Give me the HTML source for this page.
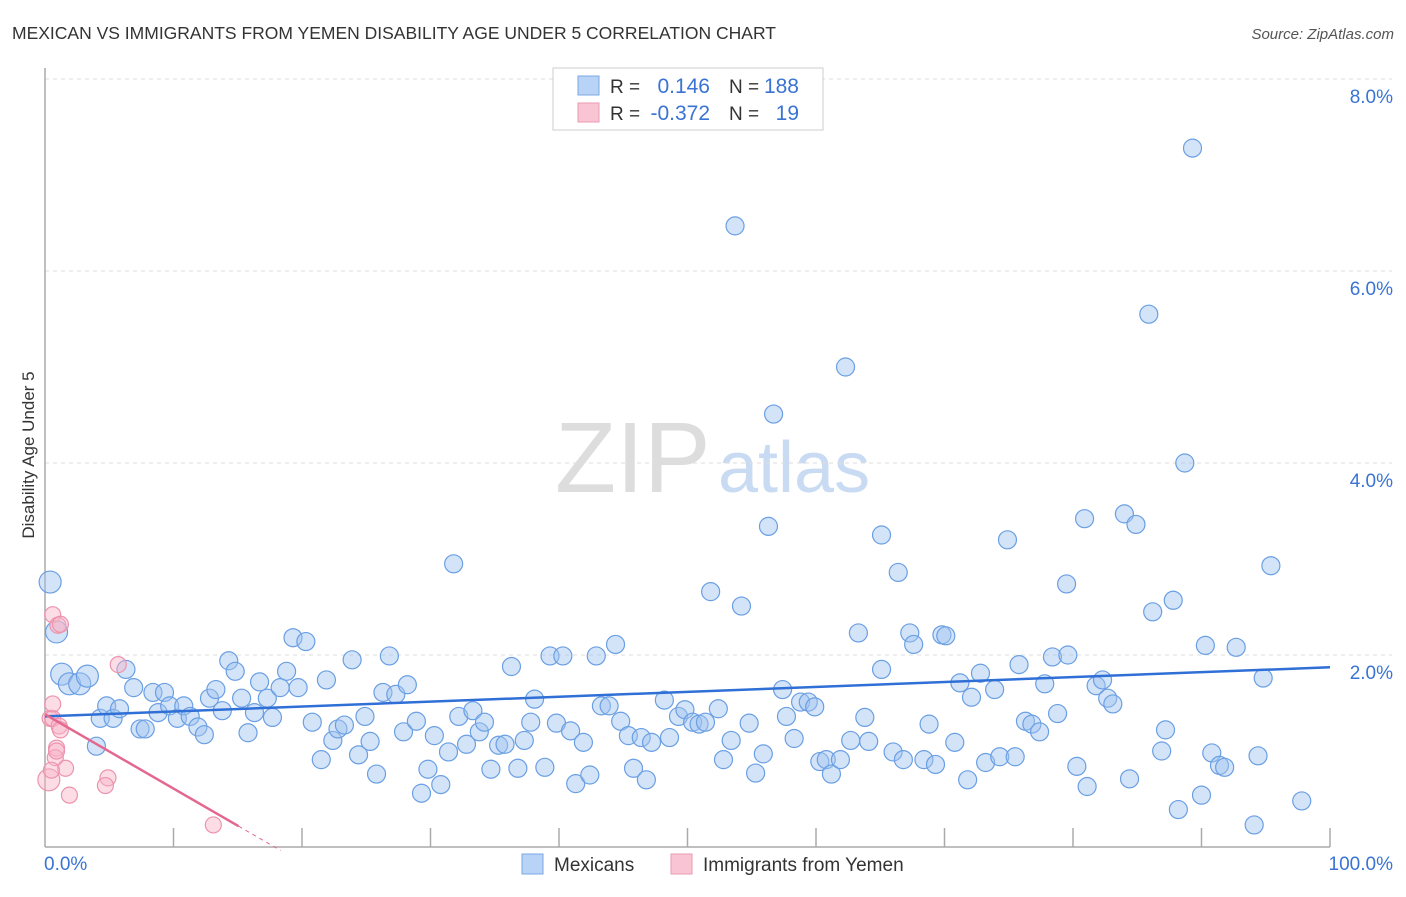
<!DOCTYPE html>
<html><head><meta charset="utf-8">
<style>
body{margin:0;background:#fff;font-family:"Liberation Sans",sans-serif;}
svg text{font-family:"Liberation Sans",sans-serif;}
</style></head>
<body>
<svg id="chart" width="1406" height="892" xmlns="http://www.w3.org/2000/svg">
<text x="12" y="39" font-size="17.5" fill="#333">MEXICAN VS IMMIGRANTS FROM YEMEN DISABILITY AGE UNDER 5 CORRELATION CHART</text>
<text x="1394" y="39" font-size="15" fill="#555" font-style="italic" text-anchor="end">Source: ZipAtlas.com</text>
<text x="34" y="455" font-size="17" fill="#333" text-anchor="middle" transform="rotate(-90 34 455)">Disability Age Under 5</text>
<g>
<text x="555" y="492" font-size="100" fill="#ddd" font-family="Liberation Serif,serif">ZIP</text>
<text x="718" y="492" font-size="72" fill="#c9dbf3">atlas</text>
</g>
<g id="grid"></g>
<g id="axes"></g>
<g id="points"></g>
<g id="trends"></g>
<g>
<rect x="553" y="68" width="270" height="62" fill="#fff" stroke="#ccc"/>
<rect x="578" y="76" width="21" height="19" fill="#b8d3f5" stroke="#7aa8e6"/>
<rect x="578" y="103" width="21" height="19" fill="#f9c5d4" stroke="#eb9ab2"/>
<text x="610" y="93" font-size="19" fill="#333">R =</text>
<text x="710" y="93" font-size="21" fill="#3a73d3" text-anchor="end">0.146</text>
<text x="729" y="93" font-size="19" fill="#333">N =</text>
<text x="799" y="93" font-size="21" fill="#3a73d3" text-anchor="end">188</text>
<text x="610" y="120" font-size="19" fill="#333">R =</text>
<text x="710" y="120" font-size="21" fill="#3a73d3" text-anchor="end">-0.372</text>
<text x="729" y="120" font-size="19" fill="#333">N =</text>
<text x="799" y="120" font-size="21" fill="#3a73d3" text-anchor="end">19</text>
</g>
<g>
<rect x="522" y="854" width="21" height="20" fill="#b8d3f5" stroke="#7aa8e6"/>
<text x="554" y="871" font-size="19" fill="#333">Mexicans</text>
<rect x="671" y="854" width="21" height="20" fill="#f9c5d4" stroke="#eb9ab2"/>
<text x="703" y="871" font-size="19" fill="#333">Immigrants from Yemen</text>
</g>
</svg>
<script>
const yTicks=[2,4,6,8];
const yTickLabels=["2.0%","4.0%","6.0%","8.0%"];
const xTickLabels=["0.0%","100.0%"];
const blueX=[0.4,0.9,1.3,1.9,2.7,3.3,4.0,4.3,4.8,5.3,5.8,6.3,6.9,7.4,7.8,8.4,8.8,9.3,9.7,10.3,10.8,11.3,11.9,12.4,12.8,13.3,13.8,14.3,14.8,15.3,15.8,16.3,16.7,17.3,17.7,18.3,18.8,19.3,19.7,20.3,20.8,21.5,21.9,22.4,22.8,23.3,23.9,24.4,24.9,25.3,25.8,26.3,26.8,27.3,27.9,28.2,28.9,29.3,29.8,30.3,30.8,31.4,31.8,32.2,32.8,33.3,33.8,34.2,34.7,35.3,35.8,36.3,36.8,37.3,37.8,38.1,38.9,39.3,39.8,40.3,40.9,41.3,41.9,42.4,42.9,43.3,43.9,44.4,44.8,45.4,45.8,46.4,46.8,47.2,48.2,48.6,49.3,49.8,50.4,50.9,51.4,51.8,52.4,52.8,53.4,53.7,54.2,54.8,55.3,55.9,56.3,56.7,57.4,57.7,58.3,58.8,59.4,59.9,60.3,60.8,61.2,61.9,62.3,62.7,63.3,63.8,64.1,65.1,65.1,66.0,66.4,66.8,67.3,67.6,68.4,68.8,69.3,69.8,70.1,70.8,71.2,71.8,72.1,72.8,73.2,73.9,74.3,74.9,75.5,75.8,76.3,76.8,77.4,77.8,78.4,78.8,79.5,79.6,80.3,80.9,81.1,81.8,82.3,82.7,83.1,84.0,84.4,84.9,85.9,86.2,86.9,87.2,87.8,88.2,88.7,89.3,90.0,90.3,90.8,91.4,91.8,92.7,94.1,94.4,94.8,95.4,97.8];
const blueY=[2.76,2.24,1.80,1.70,1.70,1.78,1.05,1.34,1.47,1.34,1.44,1.85,1.66,1.23,1.23,1.61,1.40,1.61,1.47,1.34,1.47,1.36,1.25,1.17,1.55,1.64,1.42,1.94,1.83,1.55,1.19,1.40,1.72,1.55,1.35,1.66,1.83,2.18,1.66,2.14,1.30,0.91,1.74,1.11,1.23,1.27,1.95,0.96,1.36,1.10,0.76,1.61,1.99,1.59,1.20,1.69,1.31,0.56,0.81,1.16,0.65,0.99,2.95,1.36,1.07,1.42,1.20,1.30,0.81,1.06,1.07,1.88,0.82,1.11,1.30,1.54,0.83,1.99,1.29,1.99,1.21,0.66,1.09,0.75,1.99,1.47,1.47,2.11,1.31,1.16,0.82,1.14,0.70,1.09,1.53,1.14,1.36,1.43,1.30,1.28,1.30,2.66,1.44,0.91,1.11,6.47,2.51,1.29,0.77,0.97,3.34,4.51,1.64,1.36,1.13,1.51,1.51,1.46,0.89,0.91,0.76,0.91,5.00,1.11,2.23,1.35,1.10,3.25,1.85,0.99,2.86,0.91,2.23,2.11,0.91,1.28,0.86,2.21,2.20,1.09,1.71,0.70,1.56,1.81,0.88,1.64,0.94,3.20,0.94,1.90,1.31,1.28,1.20,1.70,1.98,1.39,2.74,2.00,0.84,3.42,0.63,1.68,1.74,1.55,1.49,3.47,0.71,3.36,5.55,2.45,1.00,1.22,2.57,0.39,4.00,7.28,0.54,2.10,0.98,0.85,0.83,2.08,0.23,0.95,1.76,2.93,0.48];
const pinkX=[0.3,0.4,0.6,0.6,0.6,0.9,0.8,1.0,1.1,1.2,1.6,1.9,4.9,4.7,5.7,13.1,1.2,0.5,0.9];
const pinkY=[0.70,1.34,1.34,1.49,2.42,1.03,0.93,2.31,1.26,2.32,0.82,0.54,0.72,0.64,1.90,0.23,1.22,0.80,1.00];
const NS="http://www.w3.org/2000/svg";
const X0=45,X1=1330,YB=847,PX=96;
const sx=v=>X0+(X1-X0)*v/100;
const sy=v=>YB-v*PX;
function mk(t,a,p){const e=document.createElementNS(NS,t);for(const k in a)e.setAttribute(k,a[k]);p.appendChild(e);return e;}
const grid=document.getElementById('grid'),axes=document.getElementById('axes'),pts=document.getElementById('points'),tr=document.getElementById('trends');
yTicks.forEach((v,i)=>{
 const l=mk('line',{x1:X0,x2:1392,y1:sy(v),y2:sy(v),stroke:'#ddd','stroke-dasharray':'4,4'},grid);
 
 
 const t=mk('text',{x:1393,y:sy(v)+24,'font-size':19,fill:'#3a73d3','text-anchor':'end'},axes);
 t.textContent=yTickLabels[i];
 
 
});
const la=mk('line',{x1:X0,x2:X0,y1:68,y2:YB,stroke:'#aaa','stroke-width':1.5},axes);


const lb=mk('line',{x1:X0,x2:X1,y1:YB,y2:YB,stroke:'#aaa','stroke-width':1.5},axes);


for(let i=1;i<=10;i++){
 const k=mk('line',{x1:sx(i*10),x2:sx(i*10),y1:828,y2:YB,stroke:'#aaa','stroke-width':1.5},axes);
 
 
}
[[0,'start',44],[100,'end',1393]].forEach((d,i)=>{
 const t=mk('text',{x:d[2],y:870,'font-size':19,fill:'#3a73d3','text-anchor':d[1]},axes);
 t.textContent=xTickLabels[i];
 
 
});
blueX.forEach((x,i)=>{
 const r=(x<3.5&&(i<6))?11:9;
 const c=mk('circle',{cx:sx(x),cy:sy(blueY[i]),r:r,fill:'rgba(160,196,240,0.45)',stroke:'#6a9fe3','stroke-width':1.2},pts);
 
 
});
pinkX.forEach((x,i)=>{
 const c=mk('circle',{cx:sx(x),cy:sy(pinkY[i]),r:i==0?11:8,fill:'rgba(248,180,200,0.45)',stroke:'#ec93ad','stroke-width':1.2},pts);
 
 
});
function reg(xs,ys){const n=xs.length;let mx=0,my=0;for(let i=0;i<n;i++){mx+=xs[i];my+=ys[i];}mx/=n;my/=n;let sxy=0,sxx=0;for(let i=0;i<n;i++){sxy+=(xs[i]-mx)*(ys[i]-my);sxx+=(xs[i]-mx)**2;}const b=sxy/sxx;return [my-b*mx,b];}
const [ba,bb]=reg(blueX,blueY);
const bl=mk('line',{x1:sx(0),y1:sy(ba),x2:sx(100),y2:sy(ba+bb*100),stroke:'#2f6fd6','stroke-width':2.5},tr);


const [pa,pb]=reg(pinkX,pinkY);
const pm=Math.max(...pinkX);
const pl=mk('line',{x1:sx(0),y1:sy(pa),x2:sx(pm*1.15),y2:sy(pa+pb*pm*1.15),stroke:'#e4678f','stroke-width':2.5},tr);


const pd=mk('line',{x1:sx(pm*1.15),y1:sy(pa+pb*pm*1.15),x2:sx(pm*1.4),y2:sy(pa+pb*pm*1.4),stroke:'#e4678f','stroke-width':1,'stroke-dasharray':'4,4'},tr);


</script>
</body></html>
